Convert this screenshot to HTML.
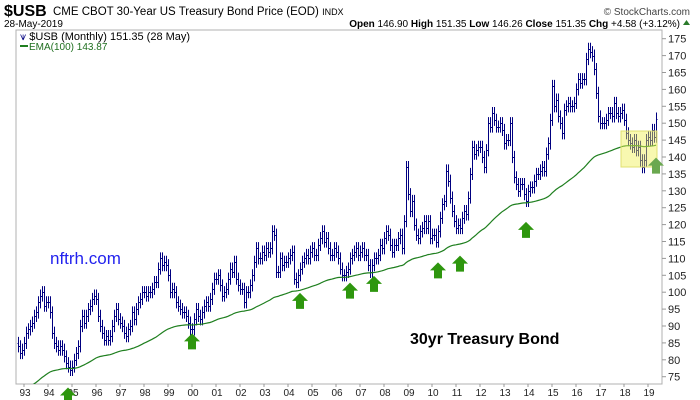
<!DOCTYPE html>
<html><head><meta charset="utf-8"><style>
body{margin:0;background:#fff;}
svg{display:block;font-family:"Liberation Sans",sans-serif;}
</style></head><body>
<svg id="chart" width="700" height="400" viewBox="0 0 700 400">
  <text x="4" y="16" font-size="16" font-weight="bold">$USB</text>
  <text x="53" y="15" font-size="11.5">CME CBOT 30-Year US Treasury Bond Price (EOD) <tspan font-size="9">INDX</tspan></text>
  <text x="690" y="15" font-size="10" text-anchor="end" fill="#444">© StockCharts.com</text>
  <text x="4" y="27" font-size="10">28-May-2019</text>
  <text x="680" y="27" font-size="10" text-anchor="end"><tspan font-weight="bold">Open</tspan> 146.90 <tspan font-weight="bold">High</tspan> 151.35 <tspan font-weight="bold">Low</tspan> 146.26 <tspan font-weight="bold">Close</tspan> 151.35 <tspan font-weight="bold">Chg</tspan> +4.58 (+3.12%)</text>
  <path d="M683 25 L690 25 L686.5 20 Z" fill="#2a7a2a"/>
  <rect x="16" y="30" width="646" height="354" fill="#fff" stroke="#b0b0b0"/>
  <g id="yaxis"></g>
  <g id="xaxis"></g>
  <defs><clipPath id="clip"><rect x="16" y="30" width="646" height="354"/></clipPath></defs>
  <g id="bars" clip-path="url(#clip)"></g>
  <path id="ema" clip-path="url(#clip)" fill="none" stroke="#1f7f1f" stroke-width="1.2"/>
  <rect x="621" y="131" width="36" height="36" fill="rgb(240,240,80)" fill-opacity="0.45" stroke="#e0e070"/>
  <text x="20" y="40" font-size="11" fill="#000"><tspan fill="#000080">⩛</tspan> $USB (Monthly) 151.35 (28 May)</text>
  <rect x="20" y="45" width="8" height="2" fill="#1f7f1f"/>
  <text x="29" y="50" font-size="10" fill="#1f6f1f">EMA(100) 143.87</text>
  <text x="50" y="264" font-size="17" fill="#2222ee">nftrh.com</text>
  <text x="410" y="344" font-size="16" font-weight="bold" fill="#000">30yr Treasury Bond</text>
  <g id="arrows"></g>
</svg>
<script>
const years = ["93","94","95","96","97","98","99","00","01","02","03","04","05","06","07","08","09","10","11","12","13","14","15","16","17","18","19"];
const yTicks = [75,80,85,90,95,100,105,110,115,120,125,130,135,140,145,150,155,160,165,170,175];
const closes = [84,82,83,
85,88,89,90,91,93,94,97,99,100,96,97,
97,94,88,85,84,83,84,83,81,79,78,77,
78,80,82,84,90,93,91,93,95,96,98,99,
98,93,90,88,86,87,86,87,90,93,95,92,
91,90,88,87,89,90,94,92,95,97,98,100,
100,99,100,100,101,103,103,107,110,108,109,108,
105,100,101,100,97,96,95,94,94,93,91,89,
89,92,95,93,92,94,96,97,96,98,101,104,
104,105,102,99,100,101,104,107,106,109,104,102,
101,101,97,100,100,102,105,109,113,110,110,112,
111,113,112,113,118,117,106,106,110,108,109,109,
110,111,112,104,103,105,107,109,110,111,110,112,
113,111,111,114,116,118,115,116,113,111,111,113,
112,110,107,105,105,106,107,110,111,112,113,111,
112,113,111,111,108,106,108,110,110,111,114,113,
116,118,117,114,112,114,114,116,117,113,121,137,
129,124,127,120,117,116,118,119,121,119,121,116,
117,117,115,118,122,126,127,136,133,128,124,121,
119,120,119,122,124,123,128,135,143,141,142,143,
143,140,137,142,150,149,153,151,149,149,150,148,
144,145,145,150,140,134,132,130,132,132,129,127,
130,131,131,133,135,135,136,137,136,141,144,151,
161,155,157,152,150,147,154,155,156,155,155,156,
160,163,162,163,163,169,172,171,170,166,159,152,
150,150,150,151,153,153,152,156,153,152,153,154,
151,147,145,144,143,145,142,143,139,137,139,145,
146,145,148,146,151.35];
const firstOpen = 85;
const emaSeed = 70;
const emaPeriod = 100;
const arrowMonths = [25,87,141,166,178,210,221,254,319];
const arrowPrices = [73,89,101,104,106,110,112,122,141];

const NS="http://www.w3.org/2000/svg";
function X(i){return 18+2*i;}
function Y(v){return 376.7-(v-75)*3.38;}
function mk(tag,attrs,parent){const e=document.createElementNS(NS,tag);for(const k in attrs)e.setAttribute(k,attrs[k]);parent.appendChild(e);return e;}

const ya=document.getElementById('yaxis');
yTicks.forEach(v=>{
  const y=Y(v);
  const t=mk('line',{x1:662,x2:666,y1:y,y2:y,stroke:'#999'},ya);
  
  
  const l=mk('text',{x:668,y:y+4,'font-size':11,fill:'#222'},ya);
  l.textContent=v;
  
  
});
const xa=document.getElementById('xaxis');
years.forEach((s,k)=>{
  const x=X(3+12*k);
  const t=mk('line',{x1:x,x2:x,y1:384,y2:387,stroke:'#999'},xa);
  
  
  const l=mk('text',{x:x+1,y:396,'font-size':10,'text-anchor':'middle',fill:'#222'},xa);
  l.textContent=s;
  
  
});

const bg=document.getElementById('bars');
let prev=firstOpen;
closes.forEach((c,i)=>{
  const o=prev, hi=Math.max(o,c)+1.8, lo=Math.min(o,c)-1.8, x=X(i)+0.5;
  const p=mk('path',{d:`M${x} ${Y(hi)}V${Y(lo)}M${x-1} ${Y(o).toFixed(0)}.5H${x}M${x} ${Y(c).toFixed(0)}.5H${x+1}`,stroke:'#000080','stroke-width':1,fill:'none'},bg);
  
  
  prev=c;
});

let e=emaSeed;const a=2/(emaPeriod+1);let d='';
closes.forEach((c,i)=>{e=e+a*(c-e);d+=(i?'L':'M')+X(i)+' '+Y(e).toFixed(1);});
document.getElementById('ema').setAttribute('d',d);

const ag=document.getElementById('arrows');
arrowMonths.forEach((m,k)=>{
  const cx=Math.min(X(m),663), top=Y(arrowPrices[k])+4;
  const last=k===arrowMonths.length-1;
  const p=mk('path',{d:`M${cx} ${top}L${cx+8} ${top+8}H${cx+4}V${top+16}H${cx-4}V${top+8}H${cx-8}Z`,fill:last?'#6aa84f':'#2e960e'},ag);
  
  
});
</script>
</body></html>
